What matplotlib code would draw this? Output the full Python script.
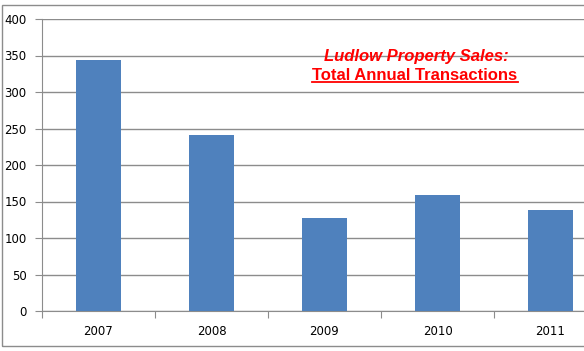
import matplotlib
matplotlib.use("Agg")
import matplotlib.pyplot as plt
from matplotlib.patches import Rectangle
from matplotlib.lines import Line2D

years = ["2007", "2008", "2009", "2010", "2011"]
sales = [344, 241, 127, 159, 138]
y_ticks = [0, 50, 100, 150, 200, 250, 300, 350, 400]

W, H = 584, 351
fig = plt.figure(figsize=(W / 100, H / 100), dpi=100)
fig.patch.set_facecolor("white")

# outer chart border (clipped on the right like the original)
fig.patches.append(Rectangle((2 / W, 5 / H), 1.0, 341 / H, transform=fig.transFigure,
                             fill=False, edgecolor="#8c8c8c", linewidth=1.0))

# plot area runs past the right edge of the picture
ax = fig.add_axes([42 / W, 40 / H, 565 / W, 292 / H])
x = range(len(years))
ax.bar(x, sales, width=0.4, color="#4F81BD", zorder=3)

ax.set_xlim(-0.5, len(years) - 0.5)
ax.set_ylim(0, 400)
ax.set_yticks(y_ticks)
ax.set_yticklabels([str(v) for v in y_ticks], fontsize=8.5, family="DejaVu Sans")
ax.yaxis.grid(True, color="#8c8c8c", linewidth=1.0, zorder=0)

ax.set_xticks([i - 0.5 for i in range(len(years) + 1)])
ax.set_xticklabels([])
ax.set_xticks(list(x), minor=True)
ax.set_xticklabels(years, minor=True, fontsize=8.5)
ax.tick_params(axis="x", which="major", length=5, color="#8c8c8c")
ax.tick_params(axis="x", which="minor", length=0, pad=10)
ax.tick_params(axis="y", length=5, color="#8c8c8c", pad=6)

for s in ["top", "right"]:
    ax.spines[s].set_visible(False)
for s in ["left", "bottom"]:
    ax.spines[s].set_color("#8c8c8c")

t1 = fig.text(416 / W, 1 - 57 / H, "Ludlow Property Sales:", color="red", fontsize=12,
              fontweight="bold", style="italic", ha="center", va="center",
              family="Liberation Sans")
t2 = fig.text(415 / W, 1 - 75 / H, "Total Annual Transactions", color="red", fontsize=12,
              fontweight="bold", ha="center", va="center", family="Liberation Sans")

# underline the second title line
fig.canvas.draw()
bb = t2.get_window_extent().transformed(fig.transFigure.inverted())
fig.add_artist(Line2D([bb.x0, bb.x1], [bb.y0 + 0.5 / H, bb.y0 + 0.5 / H], color="red",
                      linewidth=1.3, transform=fig.transFigure))

fig.savefig("out.png", dpi=100)
